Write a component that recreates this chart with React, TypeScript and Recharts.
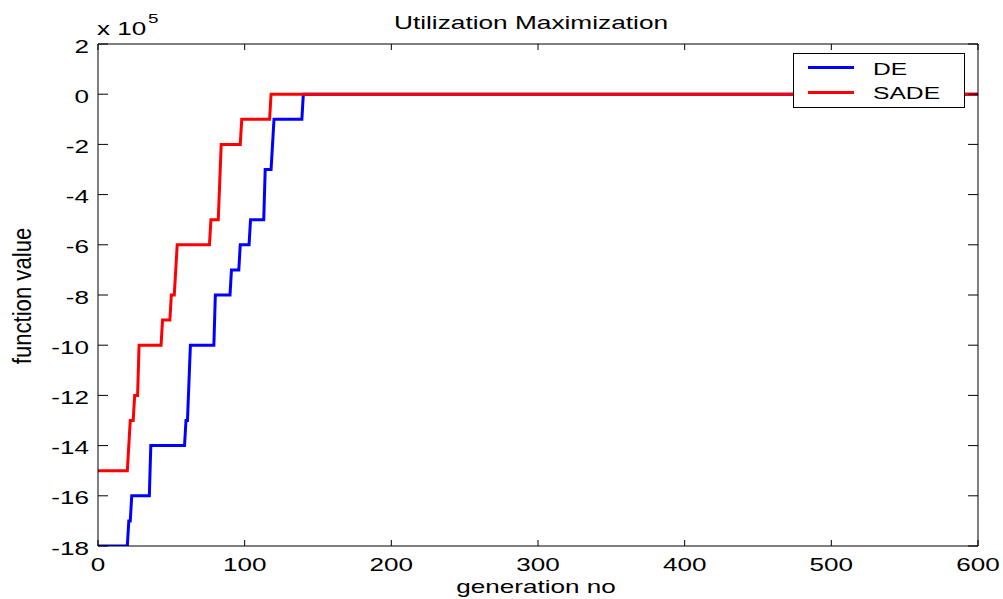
import React from 'react';
import { LineChart, Line, XAxis, YAxis, Legend } from 'recharts';

// generation numbers and function values (in units of 1e5)
const deGen = [0, 20, 21, 22, 23, 35, 36, 59, 60, 61, 63, 79, 80, 90, 91, 96, 97, 103, 104, 113, 114, 118, 120, 139, 140, 600];
const deVal = [-18, -18, -17, -17, -16, -16, -14, -14, -13, -13, -10, -10, -8, -8, -7, -7, -6, -6, -5, -5, -3, -3, -1, -1, 0, 0];

const sadeGen = [0, 20, 22, 24, 25, 27, 28, 43, 44, 49, 50, 52, 54, 76, 77, 82, 84, 97, 98, 117, 118, 600];
const sadeVal = [-15, -15, -13, -13, -12, -12, -10, -10, -9, -9, -8, -8, -6, -6, -5, -5, -2, -2, -1, -1, 0, 0];

const xTicks = [0, 100, 200, 300, 400, 500, 600];
const yTicks = [-18, -16, -14, -12, -10, -8, -6, -4, -2, 0, 2];

const seriesNames = ['DE', 'SADE'];
const seriesColors = ['#0000FF', '#FF0000'];

const titleText = 'Utilization Maximization';
const xLabelText = 'generation no';
const yLabelText = 'function value';

const deData = deGen.map((g, i) => ({ gen: g, value: deVal[i] }));
const sadeData = sadeGen.map((g, i) => ({ gen: g, value: sadeVal[i] }));

const FONT = '"Liberation Sans", Arial, Helvetica, sans-serif';
const SX = 1.45;

const LeftTick = (props: any) => {
  const { x, y, payload } = props;
  return (
    <g>
      <line x1={x} y1={y} x2={x + 10} y2={y} stroke="#000" strokeWidth={1} />
      <text transform={`translate(${x - 9},${y + 8.5}) scale(${SX},1)`} textAnchor="end" fontSize={18} fontFamily={FONT} fill="#000">
        {String(payload.value)}
      </text>
    </g>
  );
};

const RightTick = (props: any) => {
  const { x, y } = props;
  return <line x1={x} y1={y} x2={x - 10} y2={y} stroke="#000" strokeWidth={1} />;
};

const BottomTick = (props: any) => {
  const { x, y, payload } = props;
  return (
    <g>
      <line x1={x} y1={y} x2={x} y2={y - 6} stroke="#000" strokeWidth={1} />
      <text transform={`translate(${x},${y + 25}) scale(${SX},1)`} textAnchor="middle" fontSize={18} fontFamily={FONT} fill="#000">
        {String(payload.value)}
      </text>
    </g>
  );
};

const TopTick = (props: any) => {
  const { x, y } = props;
  return <line x1={x} y1={y} x2={x} y2={y + 6} stroke="#000" strokeWidth={1} />;
};

const XLabel = () => (
  <text transform={`translate(536,593) scale(${SX},1)`} textAnchor="middle" fontSize={18} fontFamily={FONT} fill="#000">
    {xLabelText}
  </text>
);

const YLabel = () => (
  <text transform="translate(31,296) rotate(-90) scale(1.23,1.4)" textAnchor="middle" fontSize={18} fontFamily={FONT} fill="#000">
    {yLabelText}
  </text>
);

const TopLabel = () => (
  <g>
    <text transform="translate(531,29) scale(1.5,1)" textAnchor="middle" fontSize={17.5} fontFamily={FONT} fill="#000">
      {titleText}
    </text>
    <text transform={`translate(97,35) scale(${SX},1)`} textAnchor="start" fontSize={18} fontFamily={FONT} fill="#000">
      x 10
    </text>
    <text transform={`translate(148,23) scale(${SX},1)`} textAnchor="start" fontSize={13} fontFamily={FONT} fill="#000">
      5
    </text>
  </g>
);

const LegendBox = (props: any) => {
  const payload = (props.payload || []) as any[];
  return (
    <svg width={173} height={55} style={{ display: 'block' }}>
      <rect x={0.5} y={0.5} width={171} height={54} fill="#fff" stroke="#000" strokeWidth={1} />
      {payload.map((p, i) => (
        <g key={i}>
          <line x1={15} y1={14.5 + i * 25} x2={61} y2={14.5 + i * 25} stroke={p.color} strokeWidth={3} />
          <text transform={`translate(80,${22 + i * 23.5}) scale(${SX},1)`} fontSize={17} fontFamily={FONT} fill="#000">
            {p.value}
          </text>
        </g>
      ))}
    </svg>
  );
};

export default function App() {
  return (
    <div style={{ position: 'absolute', left: 0, top: 0, width: 1003, height: 599, background: '#fff' }}>
      <LineChart width={1003} height={599} margin={{ top: 43, right: 24, bottom: 0, left: 0 }}>
        <XAxis
          xAxisId="top"
          orientation="top"
          type="number"
          dataKey="gen"
          domain={[0, 600]}
          ticks={xTicks}
          height={1}
          tickSize={0}
          tickMargin={0}
          tick={<TopTick />}
          axisLine={{ stroke: '#000', strokeWidth: 1 }}
          tickLine={false}
          label={<TopLabel />}
          allowDataOverflow
        />
        <XAxis
          type="number"
          dataKey="gen"
          domain={[0, 600]}
          ticks={xTicks}
          height={53}
          tickSize={0}
          tickMargin={0}
          tick={<BottomTick />}
          axisLine={{ stroke: '#000', strokeWidth: 1 }}
          tickLine={false}
          label={<XLabel />}
          allowDataOverflow
        />
        <YAxis
          type="number"
          domain={[-18, 2]}
          ticks={yTicks}
          width={98}
          tickSize={0}
          tickMargin={0}
          tick={<LeftTick />}
          axisLine={{ stroke: '#000', strokeWidth: 1 }}
          tickLine={false}
          label={<YLabel />}
          allowDataOverflow
        />
        <YAxis
          yAxisId="right"
          orientation="right"
          type="number"
          domain={[-18, 2]}
          ticks={yTicks}
          width={1}
          tickSize={0}
          tickMargin={0}
          tick={<RightTick />}
          axisLine={{ stroke: '#000', strokeWidth: 1 }}
          tickLine={false}
          allowDataOverflow
        />
        <Line
          data={deData}
          dataKey="value"
          name={seriesNames[0]}
          type="linear"
          stroke={seriesColors[0]}
          strokeWidth={3}
          dot={false}
          activeDot={false}
          isAnimationActive={false}
        />
        <Line
          xAxisId="top"
          yAxisId="right"
          data={sadeData}
          dataKey="value"
          name={seriesNames[1]}
          type="linear"
          stroke={seriesColors[1]}
          strokeWidth={3}
          dot={false}
          activeDot={false}
          isAnimationActive={false}
        />
        <Legend
          layout="horizontal"
          verticalAlign="middle"
          align="center"
          content={<LegendBox />}
          wrapperStyle={{ position: 'absolute', left: 793, top: 53, width: 173, height: 55, margin: 0, padding: 0 }}
        />
      </LineChart>
    </div>
  );
}
